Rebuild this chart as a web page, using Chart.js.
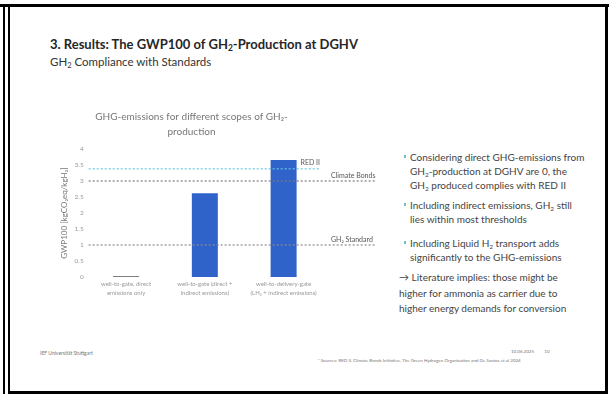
<!DOCTYPE html>
<html>
<head>
<meta charset="utf-8">
<script src="https://cdn.jsdelivr.net/npm/chart.js@4/dist/chart.umd.min.js"></script>
<style>
  html, body { margin: 0; padding: 0; background: #fff; }
  body { width: 609px; height: 394px; position: relative; overflow: hidden; font-family: Lato, "Open Sans", sans-serif; }
  .b { position: absolute; background: #000; }
  #title { position: absolute; left: 50px; top: 36px; font-size: 13px; font-weight: bold; color: #262626; white-space: nowrap; }
  #sub { position: absolute; left: 50px; top: 55px; font-size: 11.5px; color: #333; white-space: nowrap; }
  #chartBox { position: absolute; left: 60px; top: 107px; width: 327px; height: 196px; }
  #notes { position: absolute; left: 399px; top: 150px; width: 200px; font-size: 10px; line-height: 14px; color: #444; white-space: nowrap; }
  #notes .bl { position: relative; padding-left: 11px; margin-bottom: 6px; }
  #notes .bl:before { content: ""; position: absolute; left: 5px; top: 5px; width: 2px; height: 3px; background: #6cc3c9; }
  .tiny { position: absolute; font-size: 4.5px; color: #777; white-space: nowrap; }
  sub { font-size: 65%; vertical-align: -2px; line-height: 0; }
</style>
</head>
<body>
<div class="b" style="left:0;top:4px;width:609px;height:3px"></div>
<div class="b" style="left:3px;top:7px;width:2px;height:387px"></div>
<div class="b" style="left:8px;top:7px;width:2px;height:387px"></div>
<div class="b" style="left:605px;top:7px;width:3px;height:387px"></div>
<div class="b" style="left:8px;top:391px;width:600px;height:3px"></div>

<div id="title">3. Results: The GWP100 of GH<sub>2</sub>-Production at DGHV</div>
<div id="sub">GH<sub>2</sub> Compliance with Standards</div>

<div id="chartBox"><canvas id="myChart"></canvas></div>

<div id="notes">
  <div class="bl">Considering direct GHG-emissions from<br>GH<sub>2</sub>-production at DGHV are 0, the<br>GH<sub>2</sub> produced complies with RED II</div>
  <div class="bl">Including indirect emissions, GH<sub>2</sub> still<br>lies within most thresholds</div>
  <div class="bl" style="margin-top:10px">Including Liquid H<sub>2</sub> transport adds<br>significantly to the GHG-emissions</div>
  <div style="margin-top:6px;line-height:15.5px">&rarr; Literature implies: those might be<br>higher for ammonia as carrier due to<br>higher energy demands for conversion</div>
</div>

<div class="tiny" style="left:40px;top:350px;font-size:5px">IEF Universität Stuttgart</div>
<div class="tiny" style="left:511px;top:349px">10.06.2025 &nbsp; &nbsp; &nbsp; &nbsp; 10</div>
<div class="tiny" style="left:318px;top:358px">¹ Sources: RED II, Climate Bonds Initiative, The Green Hydrogen Organisation and De Santos et al 2024</div>

<script>
// categories and values
const scopes = [
  ["well-to-gate, direct", "emissions only"],
  ["well-to-gate (direct +", "indirect emissions)"],
  ["well-to-delivery-gate", "(LH\u2082 + indirect emissions)"]
];
const gwpValues = [0.02, 2.62, 3.66];

// thresholds (kgCO2eq/kgH2)
const thresholdNames = ["RED II", "Climate Bonds", "GH\u2082 Standard"];
const thresholdValues = [3.38, 3.0, 1.0];
const thresholdColors = ["#63c9e3", "#7a7a7a", "#8a8a8a"];

const yTicks = [0, 0.5, 1, 1.5, 2, 2.5, 3, 3.5, 4];

// draw the dashed threshold lines with their labels
const thresholdPlugin = {
  id: "thresholds",
  afterDatasetsDraw(chart) {
    const ctx = chart.ctx;
    const area = chart.chartArea;
    const y = chart.scales.y;
    ctx.save();
    ctx.font = "7px Lato, sans-serif";
    thresholdValues.forEach(function (v, i) {
      const py = y.getPixelForValue(v);
      const end = i === 0 ? area.right - 4 : area.right + 52;
      ctx.strokeStyle = thresholdColors[i];
      ctx.lineWidth = 1.2;
      ctx.setLineDash([2, 2]);
      ctx.beginPath();
      ctx.moveTo(area.left + 2, py);
      ctx.lineTo(end, py);
      ctx.stroke();
      ctx.fillStyle = "#555";
      ctx.textBaseline = "bottom";
      if (i === 0) {
        ctx.textAlign = "right";
        ctx.fillText(thresholdNames[i], area.right - 3, py - 3);
      } else {
        ctx.textAlign = "left";
        ctx.fillText(thresholdNames[i], area.right + 8, py - 2);
      }
    });
    ctx.restore();
  }
};

new Chart("myChart", {
  type: "bar",
  data: {
    labels: scopes,
    datasets: [
      {
        data: gwpValues,
        backgroundColor: ["#555", "#3063c9", "#3063c9"],
        borderWidth: 0,
        categoryPercentage: 1,
        barPercentage: 0.33
      }
    ]
  },
  options: {
    responsive: true,
    maintainAspectRatio: false,
    animation: false,
    layout: { padding: { left: 0, right: 64, top: 0, bottom: 2 } },
    plugins: {
      legend: { display: false },
      tooltip: { enabled: false },
      title: {
        display: true,
        text: ["GHG-emissions for different scopes of GH\u2082-", "production"],
        color: "#777",
        font: { family: "Lato, sans-serif", size: 10, weight: "normal", lineHeight: 1.5 },
        padding: { top: 2, bottom: 10 }
      }
    },
    scales: {
      x: {
        grid: { display: false, drawTicks: false },
        border: { display: false },
        ticks: { color: "#999", font: { family: "Lato, sans-serif", size: 6, lineHeight: 1.5 }, maxRotation: 0, padding: 3 }
      },
      y: {
        min: 0,
        max: 4,
        afterBuildTicks: function (axis) {
          axis.ticks = yTicks.map(function (v) { return { value: v }; });
        },
        grid: { display: false, drawTicks: false },
        border: { display: false },
        ticks: {
          color: "#999",
          font: { family: "Lato, sans-serif", size: 6.5 },
          padding: 3,
          callback: function (v) { return String(v); }
        },
        title: {
          display: true,
          text: "GWP100 [kgCO\u2082eq/kgH\u2082]",
          color: "#777",
          font: { family: "Lato, sans-serif", size: 8 },
          padding: { top: 0, bottom: 2 }
        }
      }
    }
  },
  plugins: [thresholdPlugin]
});
</script>
</body>
</html>
